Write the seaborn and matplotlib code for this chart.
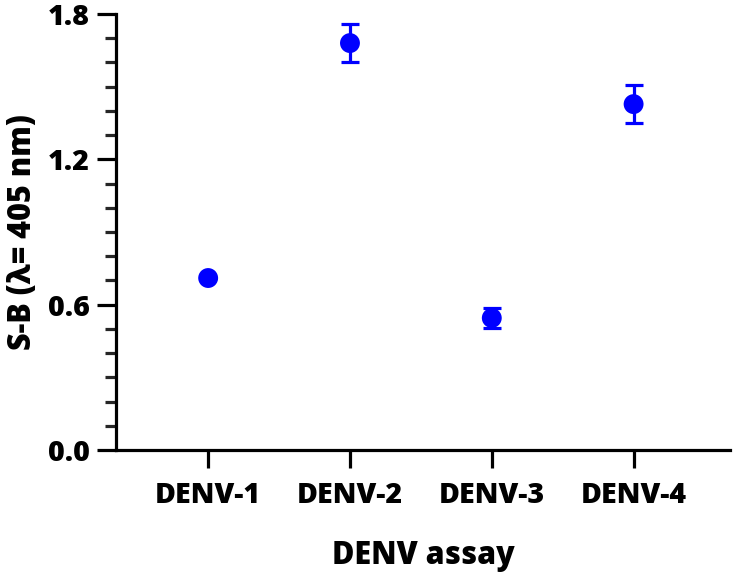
"""
DENV assay S-B plot
"""
import matplotlib
matplotlib.use('Agg')
import matplotlib.pyplot as plt
from matplotlib.ticker import MultipleLocator
import seaborn as sns
import pandas as pd

# 数据
assays = ['DENV-1', 'DENV-2', 'DENV-3', 'DENV-4']
sb_mean = [0.71, 1.68, 0.545, 1.428]
sb_err = [0.0, 0.08, 0.043, 0.077]

df = pd.DataFrame({'assay': assays, 'sb': sb_mean, 'err': sb_err})

sns.set_style('ticks')
plt.rcParams['font.family'] = ['Open Sans', 'DejaVu Sans']
plt.rcParams['text.color'] = 'black'
plt.rcParams['axes.labelcolor'] = 'black'

blue = '#0000ff'
lw = 2.3
weight = 'heavy'

fig = plt.figure(figsize=(7.34, 5.79), dpi=100)
ax = fig.add_axes([0.158, 0.2228, 0.8366, 0.753])

ax.errorbar(range(len(assays)), df['sb'], yerr=df['err'], fmt='none',
            ecolor=blue, elinewidth=lw, capsize=6.5, capthick=lw, zorder=2)
sns.scatterplot(data=df, x='assay', y='sb', ax=ax, color=blue, s=205,
                edgecolor='none', zorder=3, legend=False)

ax.set_xlim(-0.65, 3.68)
ax.set_ylim(0, 1.8)
ax.yaxis.set_minor_locator(MultipleLocator(0.1))
ax.set_yticks([0, 0.6, 1.2, 1.8])
ax.set_yticklabels(['0.0', '0.6', '1.2', '1.8'])

ax.set_xlabel('DENV assay', fontsize=22, fontweight=weight, labelpad=22)
ax.set_ylabel('S-B (λ= 405 nm)', fontsize=22, fontweight=weight, labelpad=6)

ax.tick_params(axis='both', which='major', labelsize=20.5, width=lw, color='black',
               labelcolor='black')
ax.tick_params(axis='y', which='major', length=14, pad=5)
ax.tick_params(axis='y', which='minor', length=8, width=lw)
ax.tick_params(axis='x', which='major', length=13, pad=9)
for lab in ax.get_xticklabels() + ax.get_yticklabels():
    lab.set_fontweight(weight)

sns.despine(ax=ax)
for side in ['left', 'bottom']:
    ax.spines[side].set_linewidth(lw)
    ax.spines[side].set_color('black')
for c in ax.collections:
    c.set_clip_on(False)

plt.savefig('out.png', dpi=100)
plt.close()
